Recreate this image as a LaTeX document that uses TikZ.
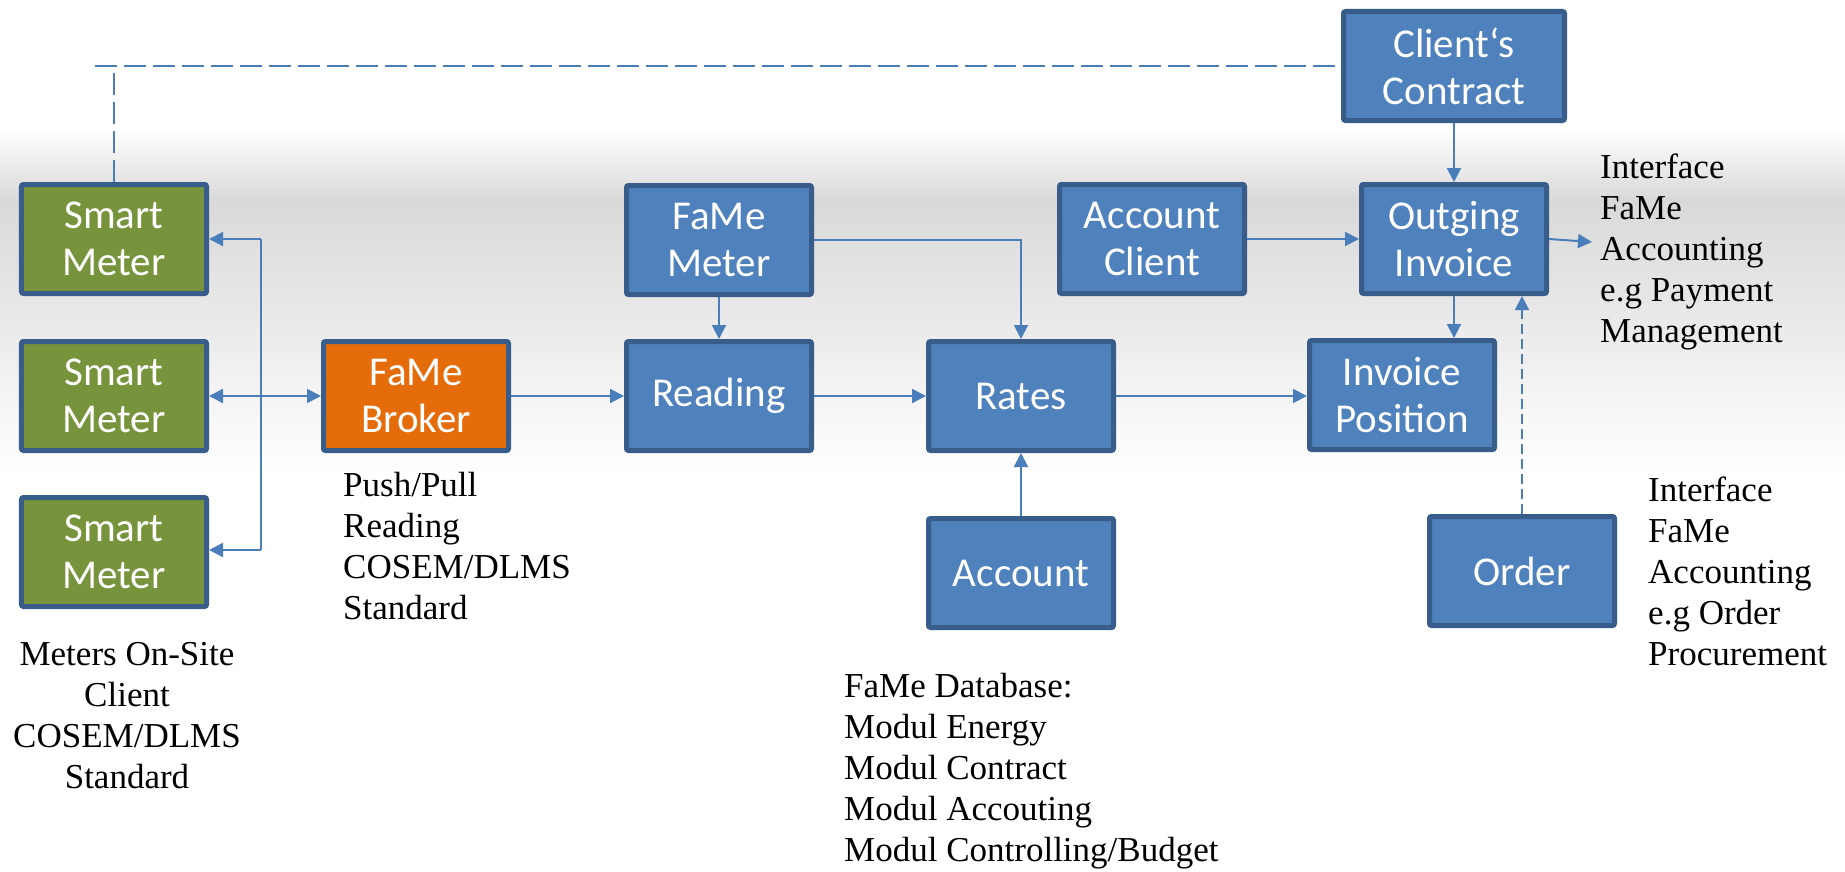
\documentclass[tikz,border=0pt]{standalone}
\usepackage{fontspec}
\setmainfont{Liberation Serif}
\newfontfamily\boxfont{Carlito}
\usetikzlibrary{arrows.meta}
\definecolor{boxblue}{HTML}{4F81BD}
\definecolor{boxedge}{HTML}{385D8A}
\definecolor{boxgreen}{HTML}{77933C}
\definecolor{boxorange}{HTML}{E46C0A}
\definecolor{linecol}{HTML}{4A7EBB}
\definecolor{bandgray}{HTML}{D9D9D9}
\tikzset{
  box/.style={draw=boxedge, line width=5bp, fill=boxblue, rounded corners=2bp,
    minimum width=185bp, minimum height=109bp, inner sep=0pt, text=white,
    align=center, font=\boxfont\fontsize{41bp}{47bp}\selectfont},
  greenbox/.style={box, fill=boxgreen},
  orangebox/.style={box, fill=boxorange},
  conn/.style={draw=linecol, line width=2bp, -{Triangle[length=14bp,width=14bp]}},
  plainconn/.style={draw=linecol, line width=2bp},
  dashconn/.style={draw=linecol, line width=2.5bp, dash pattern=on 22bp off 7bp},
  fineconn/.style={draw=linecol, line width=2bp, dash pattern=on 10bp off 5bp, -{Triangle[length=14bp,width=14bp]}},
  note/.style={inner sep=0pt, font=\fontsize{35bp}{41bp}\selectfont},
}
\begin{document}
\begin{tikzpicture}[x=1bp,y=-1bp]
\useasboundingbox (0,0) rectangle (1845,872);
\fill[white] (0,0) rectangle (1845,872);
\shade[top color=white,bottom color=bandgray] (0,130) rectangle (1845,200);
\shade[top color=bandgray,bottom color=white] (0,199.5) rectangle (1845,475);

% boxes
\node[greenbox] (sm1) at (114,239) {Smart\\Meter};
\node[greenbox] (sm2) at (114,396) {Smart\\Meter};
\node[greenbox] (sm3) at (114,552) {Smart\\Meter};
\node[orangebox] (broker) at (416,396) {FaMe\\Broker};
\node[box] (fm) at (719,240) {FaMe\\Meter};
\node[box] (reading) at (719,396) {Reading};
\node[box] (rates) at (1021,396) {Rates};
\node[box] (account) at (1021,573) {Account};
\node[box] (accl) at (1152,239) {Account\\Client};
\node[box] (outg) at (1454,239) {Outging\\Invoice};
\node[box, minimum width=221bp] (cc) at (1454,66) {Client‘s\\Contract};
\node[box] (ip) at (1402,395) {Invoice\\Position};
\node[box] (order) at (1522,571) {Order};

% texts
\node[note, anchor=base west] (brokertxt) at (343,496)
  {\begin{tabular}[t]{@{}l@{}}Push/Pull\\Reading\\COSEM/DLMS\\Standard\end{tabular}};
\node[note, anchor=base] (meterstxt) at (127,665)
  {\begin{tabular}[t]{@{}c@{}}Meters On-Site\\Client\\COSEM/DLMS\\Standard\end{tabular}};
\node[note, anchor=base west] (dbtxt) at (844,697)
  {\begin{tabular}[t]{@{}l@{}}FaMe Database:\\Modul Energy\\Modul Contract\\Modul Accouting\\Modul Controlling/Budget\end{tabular}};
\node[note, anchor=base west] (if1) at (1600,178)
  {\begin{tabular}[t]{@{}l@{}}Interface\\FaMe\\Accounting\\e.g Payment\\Management\end{tabular}};
\node[note, anchor=base west] (if2) at (1648,501)
  {\begin{tabular}[t]{@{}l@{}}Interface\\FaMe\\Accounting\\e.g Order\\Procurement\end{tabular}};

% connectors
\coordinate (bt) at (261,239);
\coordinate (bb) at (261,550);
\draw[plainconn] (bt) -- (bb);
\draw[conn] (bt) -- (sm1.east);
\draw[conn] (bb) -- (bb -| sm3.east);
\draw[draw=linecol, line width=2bp, {Triangle[length=14bp,width=14bp]}-{Triangle[length=14bp,width=14bp]}] (sm2.east) -- (broker.west);
\draw[conn] (broker.east) -- (reading.west);
\draw[conn] (reading.east) -- (rates.west);
\draw[conn] (rates.east) -- (rates.east -| ip.west);
\draw[conn] (account.north) -- (rates.south);
\draw[conn] (fm.south) -- (reading.north);
\draw[conn] (fm.east) -| (rates.north);
\draw[conn] (accl.east) -- (outg.west);
\draw[conn] (cc.south) -- (outg.north);
\draw[conn] (outg.south) -- (outg.south |- ip.north);
\coordinate (ifa) at (1592,242);
\draw[conn] (outg.east) -- (ifa);
\draw[fineconn] (order.north) -- (order.north |- outg.south);
\coordinate (dl) at (95,66);
\draw[dashconn] (sm1.north) -- (sm1.north |- dl);
\draw[dashconn] (dl) -- (cc.west);
\end{tikzpicture}
\end{document}
